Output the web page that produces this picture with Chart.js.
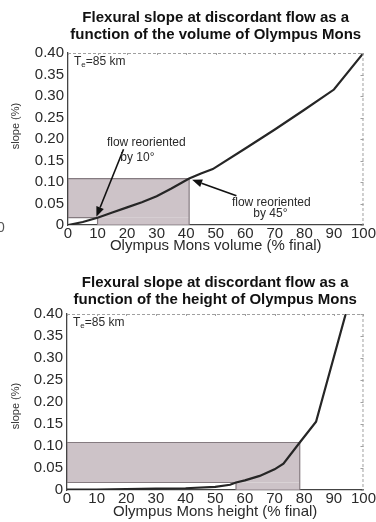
<!DOCTYPE html>
<html>
<head>
<meta charset="utf-8">
<script src="https://cdn.jsdelivr.net/npm/chart.js@4.4.1/dist/chart.umd.min.js"></script>
<style>
  html, body { margin: 0; padding: 0; background: #fff; }
  body { width: 376px; height: 522px; position: relative; overflow: hidden;
         font-family: "Liberation Sans", Arial, sans-serif; }
  .panel { position: absolute; left: 0; width: 376px; height: 261px; }
  #p1 { top: 0; }
  #p2 { top: 261px; }
  .edge { position: absolute; left: -3px; top: 219px; font-size: 14px; color: #555; }
</style>
</head>
<body>
<div class="panel" id="p1"><canvas id="c1" width="376" height="261"></canvas></div>
<div class="panel" id="p2"><canvas id="c2" width="376" height="261"></canvas></div>
<span class="edge">0</span>
<script>
// Flexural slope (%) vs. Olympus Mons volume (% of final volume)
const volumePct   = [0, 5, 10, 15, 20, 25, 30, 35, 41, 45, 49, 60, 70, 80, 90, 100];
const volumeSlope = [0, 0.007, 0.017, 0.029, 0.041, 0.053, 0.067, 0.085, 0.108, 0.12, 0.13, 0.178, 0.222, 0.268, 0.315, 0.40];

// Flexural slope (%) vs. Olympus Mons height (% of final height)
const heightPct   = [0, 10, 20, 30, 40, 50, 55, 57, 60, 65, 70, 73, 78.5, 84, 94];
const heightSlope = [0.001, 0.001, 0.002, 0.003, 0.004, 0.007, 0.012, 0.017, 0.022, 0.032, 0.047, 0.06, 0.108, 0.155, 0.40];

// Slopes at which discordant flow is reoriented by 10° and by 45°
const slopeAt10 = 0.017;
const slopeAt45 = 0.108;
const volumeAt10 = 10, volumeAt45 = 41;
const heightAt10 = 57, heightAt45 = 78.5;

// Tick labels
const slopeTicks   = [0, 0.05, 0.10, 0.15, 0.20, 0.25, 0.30, 0.35, 0.40];
const percentTicks = [0, 10, 20, 30, 40, 50, 60, 70, 80, 90, 100];

const titleVolume = ['Flexural slope at discordant flow as a', 'function of the volume of Olympus Mons'];
const titleHeight = ['Flexural slope at discordant flow as a', 'function of the height of Olympus Mons'];
const xLabelVolume = 'Olympus Mons volume (% final)';
const xLabelHeight = 'Olympus Mons height (% final)';
const yLabel = 'slope (%)';
const elasticNote = ['T', 'e', '=85 km'];

const FONT = '"Liberation Sans", Arial, sans-serif';
const SHADE = '#cdc3c8';
const SHADE_EDGE = '#857b80';
const INK = '#262626';

const pts = (xs, ys) => xs.map((v, i) => ({ x: v, y: ys[i] }));

// frame edges, small tick marks, y-axis label, arrows and notes
const decorPlugin = {
  id: 'decor',
  afterDatasetsDraw(chart, args, opts) {
    const { ctx, chartArea: a, scales: { x, y } } = chart;
    ctx.save();
    ctx.strokeStyle = '#a0a0a0';
    ctx.lineWidth = 1;
    ctx.setLineDash([3, 2]);
    ctx.beginPath();
    ctx.moveTo(a.left, a.top + 0.5); ctx.lineTo(a.right, a.top + 0.5);
    ctx.moveTo(a.right - 0.5, a.top); ctx.lineTo(a.right - 0.5, a.bottom);
    ctx.stroke();
    ctx.setLineDash([]);
    ctx.beginPath();
    slopeTicks.forEach(v => {
      const py = Math.round(y.getPixelForValue(v)) + 0.5;
      ctx.moveTo(a.right, py); ctx.lineTo(a.right - 3, py);
    });
    percentTicks.forEach(v => {
      const px = Math.round(x.getPixelForValue(v)) + 0.5;
      ctx.moveTo(px, a.top); ctx.lineTo(px, a.top + 2);
    });
    ctx.stroke();

    // rotated y-axis label
    ctx.save();
    ctx.translate(16, (a.top + a.bottom) / 2 + opts.yLabelShift);
    ctx.rotate(-Math.PI / 2);
    ctx.fillStyle = '#333';
    ctx.font = '11px ' + FONT;
    ctx.textAlign = 'center';
    ctx.textBaseline = 'middle';
    ctx.fillText(yLabel, 0, 0);
    ctx.restore();

    // arrows
    ctx.strokeStyle = '#111';
    ctx.fillStyle = '#111';
    ctx.lineWidth = 1.6;
    (opts.arrows || []).forEach(ar => {
      const x0 = x.getPixelForValue(ar.from[0]), y0 = y.getPixelForValue(ar.from[1]);
      const x1 = x.getPixelForValue(ar.to[0]), y1 = y.getPixelForValue(ar.to[1]);
      const ang = Math.atan2(y1 - y0, x1 - x0);
      const L = 10, W = 4;
      const bx = x1 - L * Math.cos(ang), by = y1 - L * Math.sin(ang);
      ctx.beginPath(); ctx.moveTo(x0, y0); ctx.lineTo(bx, by); ctx.stroke();
      ctx.beginPath();
      ctx.moveTo(x1, y1);
      ctx.lineTo(bx + W * Math.sin(ang), by - W * Math.cos(ang));
      ctx.lineTo(bx - W * Math.sin(ang), by + W * Math.cos(ang));
      ctx.closePath(); ctx.fill();
    });

    // notes
    ctx.fillStyle = '#2a2a2a';
    ctx.font = '12px ' + FONT;
    ctx.textAlign = 'center';
    ctx.textBaseline = 'middle';
    (opts.notes || []).forEach(n => {
      ctx.fillText(n.text, x.getPixelForValue(n.at[0]), y.getPixelForValue(n.at[1]));
    });

    // elastic thickness label
    ctx.textAlign = 'left';
    let tx = a.left + 6;
    const ty = a.top + 9;
    ctx.font = '12px ' + FONT;
    ctx.fillText(elasticNote[0], tx, ty);
    tx += ctx.measureText(elasticNote[0]).width;
    ctx.font = '8px ' + FONT;
    ctx.fillText(elasticNote[1], tx, ty + 3);
    tx += ctx.measureText(elasticNote[1]).width;
    ctx.font = '12px ' + FONT;
    ctx.fillText(elasticNote[2], tx, ty);
    ctx.restore();
  }
};

function makeChart(id, s) {
  return new Chart(document.getElementById(id), {
    type: 'line',
    data: {
      datasets: [
        { // slope curve, drawn on top
          data: pts(s.xs, s.ys), order: 0,
          fill: false, borderColor: INK, borderWidth: 2.2, pointRadius: 0, tension: 0
        },
        { // outline of the shaded region
          data: [
            { x: 0, y: slopeAt10 }, { x: 0, y: slopeAt45 }, { x: s.at45, y: slopeAt45 },
            { x: s.at45, y: 0 }, { x: s.at10, y: 0 }, { x: s.at10, y: slopeAt10 }, { x: 0, y: slopeAt10 }
          ],
          order: 1, fill: false, borderColor: SHADE_EDGE, borderWidth: 1.2, pointRadius: 0
        },
        { // horizontal band between the two threshold slopes
          data: [{ x: 0, y: slopeAt45 }, { x: s.at45, y: slopeAt45 }],
          order: 2, fill: { value: slopeAt10 }, backgroundColor: SHADE,
          borderWidth: 0, pointRadius: 0
        },
        { // vertical band between the two threshold sizes
          data: [{ x: s.at10, y: slopeAt10 }, { x: s.at45, y: slopeAt10 }],
          order: 3, fill: { value: 0 }, backgroundColor: SHADE,
          borderWidth: 0, pointRadius: 0
        }
      ]
    },
    options: {
      responsive: false,
      animation: false,
      events: [],
      layout: { autoPadding: false, padding: { left: 0, right: s.padRight, top: 0, bottom: 0 } },
      plugins: {
        legend: { display: false },
        tooltip: { enabled: false },
        title: {
          display: true, fullSize: false, text: s.title, color: '#111',
          font: { family: FONT, size: 15, weight: 'bold', lineHeight: 1.1 },
          padding: { top: s.titleTop, bottom: s.titleBottom }
        },
        decor: { arrows: s.arrows, notes: s.notes, yLabelShift: s.yLabelShift }
      },
      scales: {
        x: {
          type: 'linear', min: 0, max: 100,
          afterBuildTicks: sc => { sc.ticks = percentTicks.map(v => ({ value: v })); },
          afterFit: sc => { sc.height = s.xHeight; },
          grid: { display: false, drawTicks: false },
          border: { display: true, color: '#444', width: 1.3 },
          ticks: { color: '#2a2a2a', font: { family: FONT, size: 15 }, padding: s.xTickPad, maxRotation: 0, autoSkip: false },
          title: { display: true, text: s.xLabel, color: '#2a2a2a', font: { family: FONT, size: 15 }, padding: { top: 0, bottom: s.xTitlePad } }
        },
        y: {
          type: 'linear', min: 0, max: 0.40,
          afterBuildTicks: sc => { sc.ticks = slopeTicks.map(v => ({ value: v })); },
          afterFit: sc => { sc.width = s.yWidth; },
          grid: { display: false, drawTicks: false },
          border: { display: true, color: '#444', width: 1.3 },
          ticks: {
            color: '#2a2a2a', font: { family: FONT, size: 15 }, padding: 4, autoSkip: false,
            callback: v => (v === 0 ? '0' : v.toFixed(2))
          },
          title: { display: false }
        }
      }
    },
    plugins: [decorPlugin]
  });
}

makeChart('c1', {
  xs: volumePct, ys: volumeSlope, at10: volumeAt10, at45: volumeAt45,
  title: titleVolume, xLabel: xLabelVolume,
  titleTop: 10, titleBottom: 10, xHeight: 36, xTickPad: 0, xTitlePad: 6,
  yWidth: 68, padRight: 10, yLabelShift: -13,
  arrows: [ { from: [18.8, 0.176], to: [9.6, 0.019] }, { from: [57, 0.068], to: [42, 0.105] } ],
  notes: [
    { text: 'flow reoriented', at: [26.5, 0.192] },
    { text: 'by 10°', at: [23.5, 0.157] },
    { text: 'flow reoriented', at: [68.8, 0.053] },
    { text: 'by 45°', at: [68.5, 0.026] }
  ]
});

makeChart('c2', {
  xs: heightPct, ys: heightSlope, at10: heightAt10, at45: heightAt45,
  title: titleHeight, xLabel: xLabelHeight,
  titleTop: 14, titleBottom: 6, xHeight: 32, xTickPad: 0, xTitlePad: 1,
  yWidth: 67, padRight: 11, yLabelShift: 4,
  arrows: [], notes: []
});
</script>
</body>
</html>
